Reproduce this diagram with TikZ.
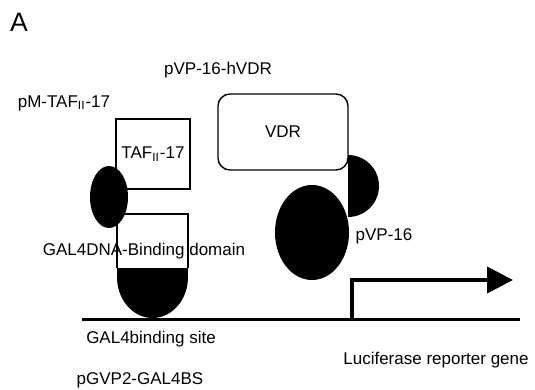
\documentclass[tikz,border=0pt]{standalone}
\usepackage{fontspec}
\setmainfont{Liberation Sans}
\usetikzlibrary{arrows.meta}
\begin{document}
\begin{tikzpicture}[
        x=0.5pt, y=-0.5pt,
        etiqueta/.style={font=\fontsize{8.5}{10}\selectfont, inner sep=0pt},
        caja/.style={draw=black, line width=0.7pt},
        relleno/.style={fill=black}
    ]
        \useasboundingbox (0,0) rectangle (535,390);
        \node[font=\fontsize{13.3}{15}\selectfont, inner sep=0pt] (letra) at (19,22) {A};

        % Plásmidos
        \node[etiqueta] (hvdr) at (218,70) {pVP-16-hVDR};
        \node[etiqueta] (ptaf) at (64,103) {pM-TAF\textsubscript{II}-17};

        % Cajas TAF y VDR
        \node[caja, etiqueta, minimum width=37pt, minimum height=35pt] (taf) at (153,154) {TAF\textsubscript{II}-17};
        \node[caja, etiqueta, rounded corners=6pt, minimum width=65pt, minimum height=38pt] (vdr) at (283,132) {VDR};

        % Dominio de unión GAL4
        \draw[caja] (117,268) -- (117,214) -- (188,214) -- (188,268);
        \fill[relleno] (117,268) rectangle (188,278);
        \begin{scope}
            \clip (117,277) rectangle (188,322);
            \fill[relleno] (152.5,277) ellipse [x radius=35.5, y radius=41];
        \end{scope}
        \node[etiqueta] (dbd) at (144,251) {GAL4DNA-Binding domain};

        % Dominios de activación
        \fill[relleno] (109,197) ellipse [x radius=19, y radius=31];
        \fill[relleno] (312,232.5) ellipse [x radius=37, y radius=47.5];
        \begin{scope}
            \clip (348,150) rectangle (385,222);
            \fill[relleno] (348,186) ellipse [x radius=31, y radius=31];
        \end{scope}
        \node[etiqueta] (vp) at (384,236) {pVP-16};

        % ADN y gen reportero
        \coordinate (dnaL) at (82,319);
        \coordinate (dnaR) at (520,319);
        \coordinate (tss) at (352,319);
        \coordinate (codo) at (352,280);
        \coordinate (punta) at (513,280);
        \draw[line width=1.5pt] (dnaL) -- (dnaR);
        \draw[line width=2pt, -{Triangle[length=13pt, width=13pt]}] (tss) -- (codo) -- (punta);

        \node[etiqueta] (sitio) at (151,339) {GAL4binding site};
        \node[etiqueta] (pgvp) at (140,380) {pGVP2-GAL4BS};
        \node[etiqueta] (luc) at (436,360) {Luciferase reporter gene};
    \end{tikzpicture}
\end{document}
